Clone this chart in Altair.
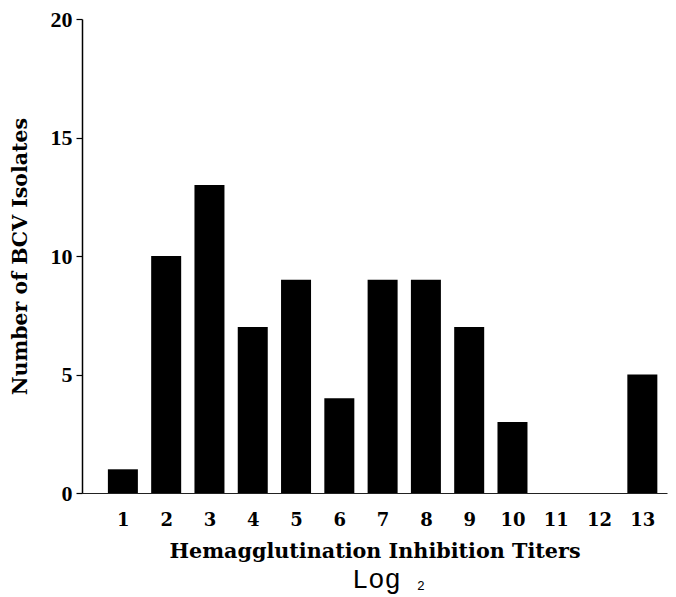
import altair as alt
import pandas as pd

titers = [1, 2, 3, 4, 5, 6, 7, 8, 9, 10, 11, 12, 13]
counts = [1, 10, 13, 7, 9, 4, 9, 9, 7, 3, 0, 0, 5]
y_ticks = [0, 5, 10, 15, 20]

df = pd.DataFrame({"titer": titers, "count": counts})

bars = alt.Chart(df).mark_bar(color="black", size=30).encode(
    x=alt.X(
        "titer:Q",
        scale=alt.Scale(domain=[0.171, 13.454], nice=False, zero=False),
        axis=alt.Axis(
            values=titers, format="d", tickSize=0, grid=False,
            domainColor="#222", domainWidth=1.2,
            labelFont="DejaVu Serif", labelFontWeight="bold", labelFontSize=18,
            labelColor="black", labelPadding=18, labelFlush=False,
            title="Hemagglutination Inhibition Titers",
            titleFont="DejaVu Serif", titleFontWeight="bold", titleFontSize=20.7,
            titleColor="black", titlePadding=12,
        ),
    ),
    y=alt.Y(
        "count:Q",
        scale=alt.Scale(domain=[0, 20], nice=False),
        axis=alt.Axis(
            values=y_ticks, tickSize=6, tickColor="black", grid=False,
            domainColor="black", domainWidth=1.5, tickWidth=1.2,
            labelFont="Liberation Serif", labelFontWeight="bold", labelFontSize=22,
            labelColor="black", labelPadding=4,
            title="Number of BCV Isolates",
            titleFont="DejaVu Serif", titleFontWeight="bold", titleFontSize=20.5,
            titleColor="black", titlePadding=20,
        ),
    ),
)

log_df = pd.DataFrame({"t": ["Log"]})
sub_df = pd.DataFrame({"t": ["2"]})

log_text = alt.Chart(log_df).mark_text(
    font="Liberation Mono", fontSize=27, align="left", baseline="alphabetic", color="black"
).encode(text="t:N", x=alt.value(270), y=alt.value(569))

sub_text = alt.Chart(sub_df).mark_text(
    font="Liberation Mono", fontSize=13, align="left", baseline="alphabetic", color="black"
).encode(text="t:N", x=alt.value(335), y=alt.value(571))

chart = alt.layer(bars, log_text, sub_text).properties(
    width=585, height=474, autosize="none", background="white",
    padding={"left": 74, "top": 11, "right": 1, "bottom": 104},
).configure_view(stroke=None, strokeWidth=0)

chart.save("out.html", embed_options={"renderer": "svg", "actions": False})
